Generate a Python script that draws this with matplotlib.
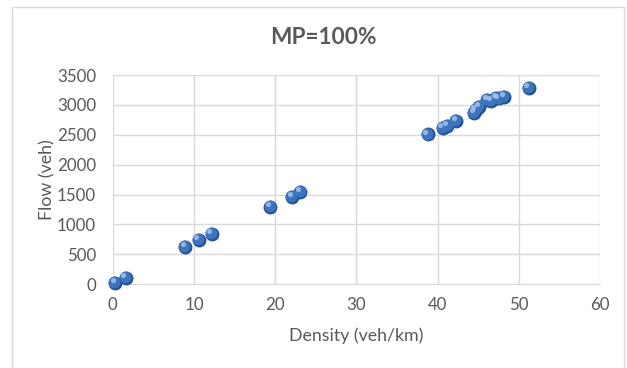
import numpy as np
import matplotlib
matplotlib.use('Agg')
import matplotlib.pyplot as plt
from matplotlib.patches import Rectangle
from matplotlib.transforms import offset_copy

# ── Data ──────────────────────────────────────────────────────────────────────
density = [0.3, 1.6, 8.9, 10.6, 12.2, 19.4, 22.1, 23.1,
           38.8, 40.6, 41.2, 42.3, 44.5, 44.7, 45.1, 46.1, 46.6, 47.2, 47.5, 48.2, 51.2]
flow    = [20, 110, 620, 740, 840, 1290, 1465, 1550,
           2505, 2615, 2650, 2730, 2870, 2920, 2965, 3085, 3065, 3120, 3110, 3140, 3290]
x_ticks = [0, 10, 20, 30, 40, 50, 60]
y_ticks = [0, 500, 1000, 1500, 2000, 2500, 3000, 3500]

TXT  = '#595959'
GRID = '#D9D9D9'

plt.rcParams['font.family'] = ['Lato', 'DejaVu Sans']

fig = plt.figure(figsize=(6.27, 3.68), dpi=100)
ax = fig.add_axes([0.180, 0.228, 0.777, 0.568])

# chart border
fig.patches.append(Rectangle((12 / 627, -0.01), 612 / 627, 1 - 7 / 368 + 0.01,
                             transform=fig.transFigure, fill=False,
                             edgecolor=GRID, linewidth=1))

# sphere-like markers: dark rim, body, soft highlight
ax.scatter(density, flow, s=100, color='#24538F', zorder=3, linewidths=0, clip_on=False)
ax.scatter(density, flow, s=72, color='#3D74BF', zorder=4, linewidths=0, clip_on=False,
           transform=offset_copy(ax.transData, fig, x=-0.6, y=0.6, units='points'))
ax.scatter(density, flow, s=14, color='#A3C2EA', zorder=5, linewidths=0, alpha=0.85,
           clip_on=False,
           transform=offset_copy(ax.transData, fig, x=-1.8, y=2.0, units='points'))

ax.set_xlim(0, 60)
ax.set_ylim(0, 3500)
ax.set_xticks(x_ticks)
ax.set_yticks(y_ticks)
ax.tick_params(length=0, labelsize=12.2, labelcolor=TXT, pad=9)
ax.tick_params(axis='y', pad=12)
ax.grid(True, color=GRID, linewidth=1)
ax.set_axisbelow(True)
for side in ['top', 'right', 'left']:
    ax.spines[side].set_visible(False)
ax.spines['bottom'].set_color(GRID)

ax.set_xlabel('Density (veh/km)', fontsize=12.8, color=TXT, labelpad=11)
ax.set_ylabel('Flow (veh)', fontsize=12.8, color=TXT, labelpad=1)
fig.text(0.515, 0.897, 'MP=100%', ha='center', va='center',
         fontsize=16.3, fontweight='bold', color=TXT)

fig.savefig('out.png', dpi=100)
